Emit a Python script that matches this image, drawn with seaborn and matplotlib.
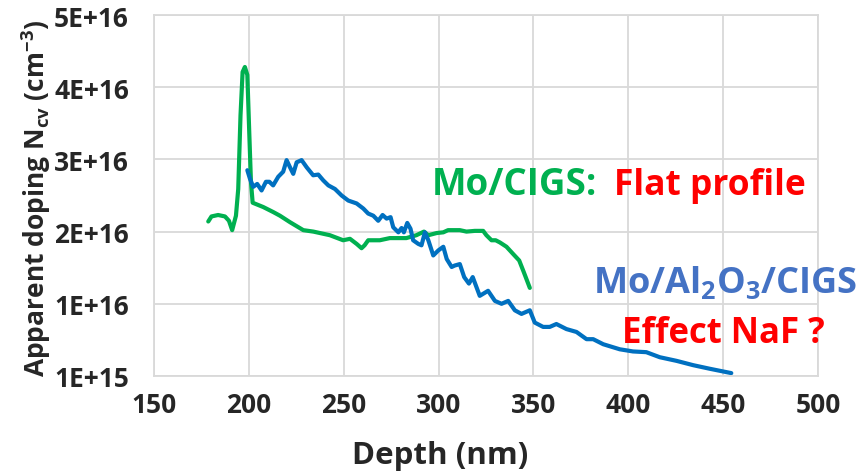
import numpy as np
import pandas as pd
import matplotlib
matplotlib.use("Agg")
import matplotlib.pyplot as plt
import seaborn as sns

# Mo/CIGS (green) - depth in nm, apparent doping in units of 1e16 cm^-3
green_depth = [178.6, 180.3, 183.8, 187.4, 189.5, 191.2, 193.2, 194.4, 195.6, 196.7,
               197.9, 199.2, 200.2, 201.1, 202.0, 207.6, 212.9, 216.4, 221.7, 228.7,
               234.0, 239.2, 242.7, 249.7, 253.3, 256.8, 259.4, 261.0, 262.9, 269.0,
               274.3, 283.0, 288.3, 292.3, 294.6, 299.0, 302.5, 305.0, 311.2, 314.7,
               319.1, 323.5, 325.2, 327.9, 330.1, 332.3, 335.8, 339.3, 342.5, 344.9,
               348.1]
green_ncv = [2.24, 2.31, 2.33, 2.31, 2.25, 2.12, 2.32, 2.69, 3.71, 4.31,
             4.38, 4.27, 3.48, 2.79, 2.50, 2.44, 2.37, 2.32, 2.23, 2.12,
             2.10, 2.07, 2.05, 1.98, 2.00, 1.93, 1.87, 1.91, 1.98, 1.98,
             2.01, 2.01, 2.05, 2.10, 2.05, 2.08, 2.09, 2.12, 2.12, 2.10,
             2.11, 2.11, 2.05, 1.98, 1.98, 1.95, 1.89, 1.79, 1.70, 1.54,
             1.32]

# Mo/Al2O3/CIGS (blue)
blue_depth = [199.2, 200.6, 202.3, 204.4, 206.7, 209.0, 210.8, 212.8, 215.5, 218.1,
              219.9, 221.7, 223.4, 225.2, 227.8, 230.5, 233.9, 236.6, 239.2, 241.9,
              245.4, 248.9, 252.4, 256.8, 260.3, 262.9, 265.6, 268.2, 270.5, 272.6,
              274.7, 276.1, 278.8, 280.5, 281.7, 283.5, 285.2, 286.6, 289.3, 291.0,
              292.8, 294.6, 297.2, 299.9, 302.5, 304.3, 306.9, 308.5, 311.2, 313.5,
              316.0, 318.0, 321.7, 326.1, 329.7, 333.2, 336.7, 340.2, 343.7, 348.1,
              350.7, 355.1, 358.6, 362.1, 367.4, 372.7, 378.0, 381.5, 386.8, 395.5,
              402.5, 409.5, 416.6, 425.4, 434.2, 443.0, 454.3]
blue_ncv = [2.95, 2.83, 2.72, 2.76, 2.67, 2.79, 2.79, 2.74, 2.86, 2.93,
            3.09, 2.99, 2.90, 3.06, 3.09, 2.99, 2.88, 2.89, 2.81, 2.74,
            2.69, 2.60, 2.53, 2.49, 2.42, 2.35, 2.32, 2.25, 2.33, 2.28,
            2.30, 2.16, 2.09, 2.15, 2.09, 2.22, 2.14, 1.98, 1.93, 1.91,
            2.09, 1.98, 1.77, 1.84, 1.89, 1.72, 1.61, 1.63, 1.65, 1.47,
            1.38, 1.47, 1.21, 1.28, 1.14, 1.10, 1.14, 1.01, 0.96, 1.01,
            0.84, 0.78, 0.78, 0.82, 0.75, 0.71, 0.61, 0.61, 0.54, 0.47,
            0.44, 0.43, 0.36, 0.31, 0.25, 0.20, 0.14]

# Excel-style axis: min 1E+15, major unit 1E+16
y_ticks = [0.1, 1.1, 2.1, 3.1, 4.1, 5.1]
y_tick_labels = ["1E+15", "1E+16", "2E+16", "3E+16", "4E+16", "5E+16"]
x_ticks = [150, 200, 250, 300, 350, 400, 450, 500]

df = pd.concat([
    pd.DataFrame({"depth": green_depth, "ncv": green_ncv, "sample": "Mo/CIGS"}),
    pd.DataFrame({"depth": blue_depth, "ncv": blue_ncv, "sample": "Mo/Al2O3/CIGS"}),
], ignore_index=True)

sns.set_theme(style="white")
plt.rcParams["font.family"] = ["Open Sans", "DejaVu Sans"]
plt.rcParams["mathtext.fontset"] = "custom"
plt.rcParams["mathtext.rm"] = "Open Sans"
plt.rcParams["mathtext.bf"] = "Open Sans:bold"

fig = plt.figure(figsize=(8.6, 4.77), dpi=100)
ax = fig.add_axes([154 / 860, 1 - 377 / 477, 664 / 860, 361 / 477])

sns.lineplot(data=df, x="depth", y="ncv", hue="sample", sort=False,
             palette={"Mo/CIGS": "#00B050", "Mo/Al2O3/CIGS": "#0070C0"},
             linewidth=3.0, legend=False, ax=ax)

ax.set_xlim(150, 500)
ax.set_ylim(0.1, 5.1)
ax.set_xticks(x_ticks)
ax.set_yticks(y_ticks)
ax.set_yticklabels(y_tick_labels)
ax.grid(True, color="#D9D9D9", linewidth=1.3)
ax.set_axisbelow(True)
for s in ax.spines.values():
    s.set_color("#D9D9D9")
    s.set_linewidth(1.3)
ax.tick_params(axis="both", length=0, labelsize=19)
ax.tick_params(axis="x", pad=11)
ax.tick_params(axis="y", pad=18)
for lab in ax.get_xticklabels() + ax.get_yticklabels():
    lab.set_fontweight("bold")

ax.set_xlabel("")
ax.set_ylabel("")
fig.text(440 / 860, 1 - 456 / 477, "Depth (nm)", fontsize=22.5, fontweight="bold",
         ha="center", va="center")
fig.text(36 / 860, 1 - 198 / 477,
         r"Apparent doping N$_{\mathbf{cv}}$ (cm$^{\mathbf{-3}}$)",
         fontsize=19, fontweight="bold", rotation=90, ha="center", va="center")

# annotations
fig.text(432 / 860, 1 - 195 / 477, "Mo/CIGS:", color="#00B050", fontsize=26.5,
         fontweight="bold", va="baseline")
fig.text(614 / 860, 1 - 195 / 477, "Flat profile", color="#FF0000", fontsize=25.5,
         fontweight="bold", va="baseline")
fig.text(593 / 860, 1 - 293 / 477, r"Mo/Al$_{\mathbf{2}}$O$_{\mathbf{3}}$/CIGS",
         color="#4472C4", fontsize=26, fontweight="bold", va="baseline")
fig.text(622 / 860, 1 - 343 / 477, "Effect NaF ?", color="#FF0000", fontsize=25,
         fontweight="bold", va="baseline")

fig.savefig("out.png", dpi=100)
